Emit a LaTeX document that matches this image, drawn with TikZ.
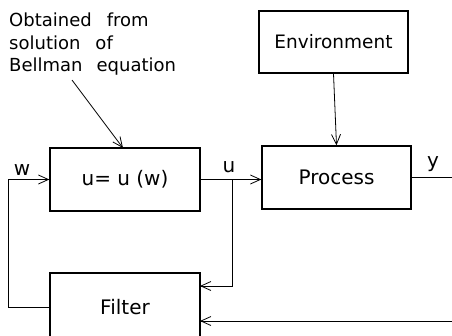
\documentclass[tikz,border=0pt]{standalone}
\usepackage{fontspec}
\setmainfont{DejaVu Sans}
\usetikzlibrary{arrows.meta,calc}
\begin{document}
\begin{tikzpicture}[x=1pt,y=-1pt,
  box/.style={draw,line width=1.3pt,rectangle,inner sep=0pt},
  conn/.style={line width=0.8pt},
  arr/.style={conn,-{Straight Barb[length=10pt,width=9pt,line width=0.8pt]}},
  lbl/.style={inner sep=0pt,font=\fontsize{20}{24}\selectfont}]
\clip (0,0) rectangle (452,335);
\node[box,minimum width=149pt,minimum height=62pt,lbl,font=\fontsize{18.5}{24}\selectfont] (env) at (333.5,42) {Environment};
\node[box,minimum width=150pt,minimum height=63pt,lbl] (ctrl) at (125,179.5) {u= u (w)};
\node[box,minimum width=149pt,minimum height=63pt,lbl] (proc) at (336.5,177.5) {Process};
\node[box,minimum width=150pt,minimum height=69pt,lbl] (filt) at (125,307.5) {Filter};
\node[lbl,anchor=north west,align=left,font=\fontsize{18}{22.5}\selectfont] (note) at (9,13)
  {Obtained\hspace{15pt}from\\solution\hspace{15pt}of\\Bellman\hspace{14pt}equation};
\coordinate (ns) at (72,80);
\coordinate (ctop) at (123,148);
\draw[arr] (ns) -- (ctop);
\draw[arr] (env.south) -- (proc.north);
\draw[arr] (ctrl.east) -- (ctrl.east -| proc.west);
\coordinate (ub) at (232,179.5);
\coordinate (fin1) at (200,286);
\draw[arr] (ub) |- (fin1);
\coordinate (wl) at (8,307.5);
\draw[arr] (filt.west) -- (wl) |- (ctrl.west);
\coordinate (yend) at (452,177.5);
\draw[conn] (proc.east) -- (yend);
\coordinate (bin) at (452,321);
\coordinate (fin2) at (200,321);
\draw[arr] (bin) -- (fin2);
\node[lbl] (wlab) at (22,170) {w};
\node[lbl] (ulab) at (229,167) {u};
\node[lbl] (ylab) at (433,164) {y};
\end{tikzpicture}
\end{document}
